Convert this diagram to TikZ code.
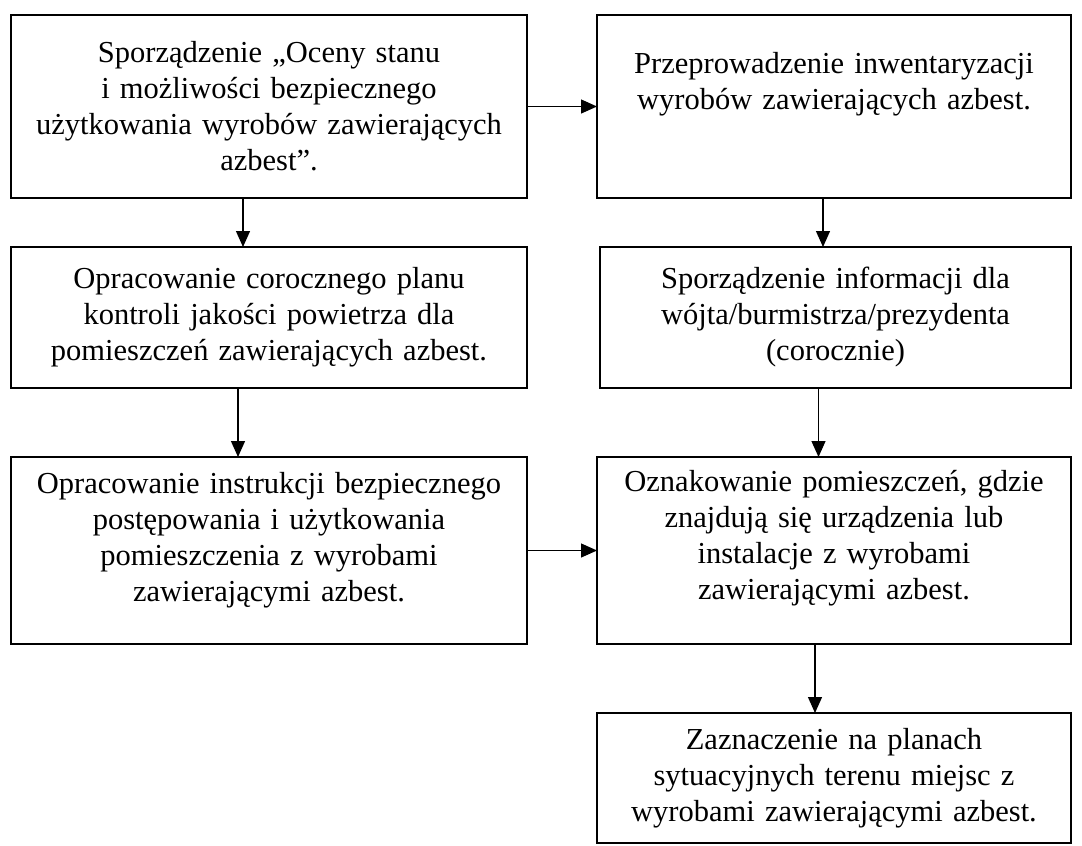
\documentclass[tikz,border=0pt]{standalone}
\usepackage{fontspec}
\setmainfont{Liberation Serif}
\usetikzlibrary{positioning}
\usetikzlibrary{arrows.meta}

\begin{document}
\begin{tikzpicture}[
    stepbox/.style={draw, line width=1.5pt, anchor=north west, inner xsep=6pt, inner ysep=0pt, outer sep=0pt,
        align=center, font=\fontsize{30.5}{36}\selectfont},
    widebox/.style={minimum width=516pt, text width=504pt},
    narrowbox/.style={minimum width=474pt, text width=462pt}
]
    \useasboundingbox[fill=white] (0pt,0pt) rectangle (1082pt,-846pt);
    % left column
    \node(a1)[stepbox, widebox, minimum height=183pt] at (11pt,-15pt)
        {Sporządzenie „Oceny stanu\\ i możliwości bezpiecznego\\ użytkowania wyrobów zawierających\\ azbest”.};
    \node(a2)[stepbox, widebox, minimum height=141pt, below=49pt of a1.south west, anchor=north west]
        {Opracowanie corocznego planu\\ kontroli jakości powietrza dla\\ pomieszczeń zawierających azbest.};
    \node(a3)[stepbox, widebox, minimum height=187pt, text depth=135pt, below=69pt of a2.south west, anchor=north west]
        {Opracowanie instrukcji bezpiecznego\\ postępowania i użytkowania\\ pomieszczenia z wyrobami\\ zawierającymi azbest.};
    % right column
    \node(b1)[stepbox, narrowbox, minimum height=183pt, text depth=87pt, right=70pt of a1.north east, anchor=north west]
        {Przeprowadzenie inwentaryzacji\\ wyrobów zawierających azbest.};
    \node(b2)[stepbox, minimum width=471pt, text width=459pt, minimum height=141pt, below=49pt of b1.south west, anchor=north west, xshift=3pt]
        {Sporządzenie informacji dla\\ wójta/burmistrza/prezydenta\\ (corocznie)};
    \node(b3)[stepbox, narrowbox, minimum height=187pt, text depth=140pt, right=70pt of a3.north east, anchor=north west]
        {Oznakowanie pomieszczeń, gdzie\\ znajdują się urządzenia lub\\ instalacje z wyrobami\\ zawierającymi azbest.};
    \node(b4)[stepbox, narrowbox, minimum height=130pt, below=69pt of b3.south west, anchor=north west]
        {Zaznaczenie na planach\\ sytuacyjnych terenu miejsc z\\ wyrobami zawierającymi azbest.};
    %Lines
    \begin{scope}[>={Triangle[length=16pt,width=14pt]}, line width=1.3pt]
        \draw[->] (a1.east) -- (b1.west);
        \draw[->] ([xshift=-26pt]a1.south) -- ([xshift=-26pt]a2.north);
        \draw[->] ([xshift=-31pt]a2.south) -- ([xshift=-31pt]a3.north);
        \draw[->] (a3.east) -- (b3.west);
        \draw[->] ([xshift=-11pt]b1.south) -- ([xshift=-11pt]b1.south |- b2.north);
        \draw[->] ([xshift=-17pt]b2.south) -- ([xshift=-17pt]b2.south |- b3.north);
        \draw[->] ([xshift=-19pt]b3.south) -- ([xshift=-19pt]b4.north);
    \end{scope}
\end{tikzpicture}
\end{document}
